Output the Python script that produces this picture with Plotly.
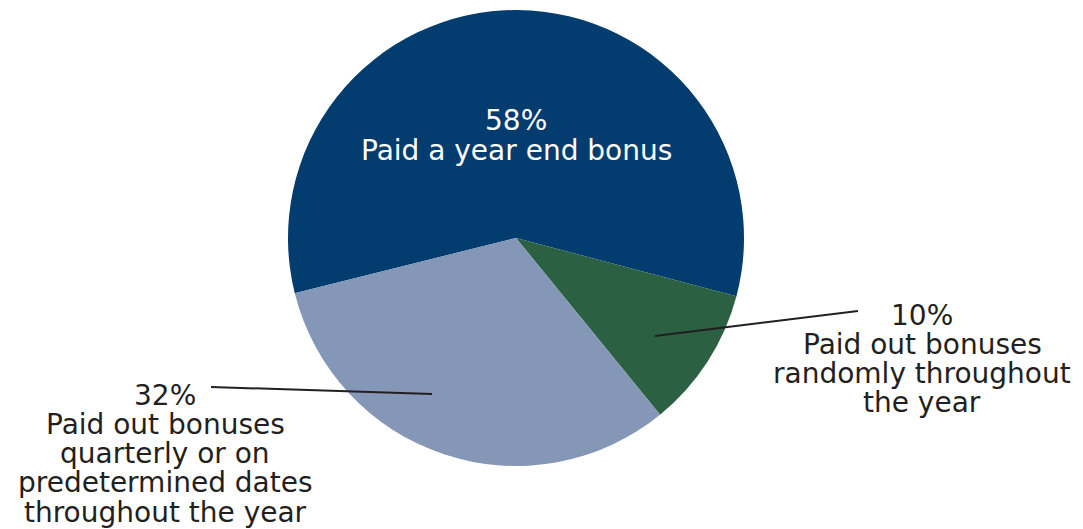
import plotly.graph_objects as go

# Survey: how bonuses were paid out
categories = [
    "Paid a year end bonus",
    "Paid out bonuses randomly throughout the year",
    "Paid out bonuses quarterly or on predetermined dates throughout the year",
]
shares = [58, 10, 32]
label_lines = [
    ["Paid a year end bonus"],
    ["Paid out bonuses", "randomly throughout", "the year"],
    ["Paid out bonuses", "quarterly or on", "predetermined dates", "throughout the year"],
]
slice_colors = ["#033C6E", "#2B6142", "#8497B6"]

W, H = 1083, 529
cx, cy, R = 516, 238, 228

# Label placement in pixels: text centre x, first baseline y, text colour,
# and optional leader line (inner point, outer point)
label_layout = [
    dict(x=516, y0=131, color="#FFFFFF", line=None),
    dict(x=922, y0=325, color="#231F20", line=((655, 336), (858, 311))),
    dict(x=165, y0=405, color="#231F20", line=((432, 394), (211, 387))),
]
LINE_GAP = 29.3
FONT_SIZE = 28
FONT = "DejaVu Sans"


def px(x):
    return x / W


def py(y):
    return 1 - y / H


fig = go.Figure(
    go.Pie(
        labels=categories,
        values=shares,
        sort=False,
        direction="clockwise",
        rotation=256,
        marker=dict(colors=slice_colors, line=dict(width=0)),
        textinfo="none",
        hoverinfo="label+percent",
        showlegend=False,
        domain=dict(x=[px(cx - R), px(cx + R)], y=[py(cy + R), py(cy - R)]),
    )
)

annotations = []
shapes = []
for share, lines, lay in zip(shares, label_lines, label_layout):
    rows = [f"{share}%"] + lines
    for i, row in enumerate(rows):
        baseline = lay["y0"] + i * LINE_GAP
        annotations.append(
            dict(
                x=px(lay["x"]),
                y=py(baseline - 10),
                xref="paper",
                yref="paper",
                text=row,
                showarrow=False,
                xanchor="center",
                yanchor="middle",
                font=dict(family=FONT, size=FONT_SIZE, color=lay["color"]),
            )
        )
    if lay["line"]:
        (x0, y0), (x1, y1) = lay["line"]
        shapes.append(
            dict(
                type="line",
                xref="paper",
                yref="paper",
                x0=px(x0),
                y0=py(y0),
                x1=px(x1),
                y1=py(y1),
                line=dict(color="#231F20", width=2),
            )
        )

fig.update_layout(
    width=W,
    height=H,
    margin=dict(l=0, r=0, t=0, b=0),
    paper_bgcolor="#FFFFFF",
    plot_bgcolor="#FFFFFF",
    annotations=annotations,
    shapes=shapes,
)

fig.write_html("out.html")
